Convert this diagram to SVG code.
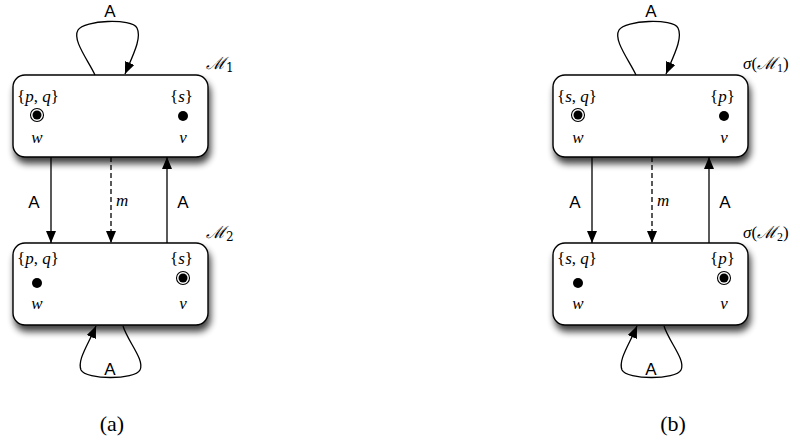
<svg xmlns="http://www.w3.org/2000/svg" width="800" height="444" viewBox="0 0 800 444">
<style>
.box{fill:#fff;stroke:#000;stroke-width:1.4}
.ln{fill:none;stroke:#000;stroke-width:1.3}
.dash{stroke-dasharray:5,3}
.lab{font-family:"Liberation Sans",Arial,sans-serif;font-size:17px;fill:#000;text-anchor:middle}
.mt{font-family:"Liberation Serif","Times New Roman",serif;font-size:17px;fill:#000}
.it{font-style:italic}
.cap{font-family:"Liberation Serif","Times New Roman",serif;font-size:22px;fill:#000;text-anchor:middle}
.sc{font-family:"DejaVu Serif","Liberation Serif",serif;font-style:italic;font-size:17px}
</style>
<defs>
<filter id="sh" x="-20%" y="-20%" width="140%" height="160%">
<feGaussianBlur in="SourceAlpha" stdDeviation="3.5"/>
<feOffset dx="2" dy="6" result="b"/>
<feComponentTransfer><feFuncA type="linear" slope="0.75"/></feComponentTransfer>
<feMerge><feMergeNode/><feMergeNode in="SourceGraphic"/></feMerge>
</filter>
<marker id="ah" markerUnits="userSpaceOnUse" markerWidth="13" markerHeight="11" refX="12" refY="5" orient="auto">
<path d="M0,0 L12,5 L0,10 z" fill="#000"/>
</marker>
<g id="dbl"><circle r="6.5" fill="#fff" stroke="#000" stroke-width="1.1"/><circle r="4.5" fill="#000"/></g>
</defs>

<!-- Panel (a) -->
<g id="panel-a">
<g id="a-M1">
<rect class="box" x="13" y="75" width="195" height="82" rx="12" filter="url(#sh)"/>
<text class="mt" x="17" y="102">{<tspan class="it">p</tspan>, <tspan class="it">q</tspan>}</text>
<text class="mt" x="170" y="102">{<tspan class="it">s</tspan>}</text>
<use href="#dbl" x="37" y="115"/>
<circle cx="183" cy="116" r="5" fill="#000"/>
<text class="mt it" x="37" y="143" text-anchor="middle">w</text>
<text class="mt it" x="183" y="143" text-anchor="middle">v</text>
<text class="sc" x="206" y="69">ℳ<tspan font-size="12" dy="3" font-style="normal">1</tspan></text>
</g>
<g id="a-M2">
<rect class="box" x="13" y="243" width="195" height="82" rx="12" filter="url(#sh)"/>
<text class="mt" x="17" y="264">{<tspan class="it">p</tspan>, <tspan class="it">q</tspan>}</text>
<text class="mt" x="170" y="264">{<tspan class="it">s</tspan>}</text>
<circle cx="37" cy="283" r="5" fill="#000"/>
<use href="#dbl" x="183" y="278"/>
<text class="mt it" x="37" y="309" text-anchor="middle">w</text>
<text class="mt it" x="183" y="309" text-anchor="middle">v</text>
<text class="sc" x="206" y="238">ℳ<tspan font-size="12" dy="3" font-style="normal">2</tspan></text>
</g>
<g id="a-edges">
<path class="ln" d="M95,75 C88,60 72,40 78,30 C84,20 132,18 137,28 C142,38 133,55 125,74" marker-end="url(#ah)"/>
<text class="lab" x="110" y="17">A</text>
<line class="ln" x1="51" y1="157" x2="51" y2="243" marker-end="url(#ah)"/>
<text class="lab" x="34" y="208">A</text>
<line class="ln dash" x1="111" y1="157" x2="111" y2="243" marker-end="url(#ah)"/>
<text class="mt it" x="116" y="206">m</text>
<line class="ln" x1="167" y1="243" x2="167" y2="157" marker-end="url(#ah)"/>
<text class="lab" x="183" y="208">A</text>
<path class="ln" d="M123,326 C128,342 145,360 140,370 C135,380 86,380 81,370 C77,360 88,345 96,326" marker-end="url(#ah)"/>
<text class="lab" x="110" y="375">A</text>
</g>
<text class="cap" x="112" y="431">(a)</text>
</g>

<!-- Panel (b) -->
<g id="panel-b">
<g id="b-M1">
<rect class="box" x="553" y="75" width="195" height="82" rx="12" filter="url(#sh)"/>
<text class="mt" x="557" y="102">{<tspan class="it">s</tspan>, <tspan class="it">q</tspan>}</text>
<text class="mt" x="710" y="102">{<tspan class="it">p</tspan>}</text>
<use href="#dbl" x="578" y="115"/>
<circle cx="724" cy="116" r="5" fill="#000"/>
<text class="mt it" x="578" y="143" text-anchor="middle">w</text>
<text class="mt it" x="724" y="143" text-anchor="middle">v</text>
<text class="mt" x="743" y="69"><tspan class="it">σ</tspan>(<tspan class="sc">ℳ</tspan><tspan font-size="12" dy="3">1</tspan><tspan dy="-3">)</tspan></text>
</g>
<g id="b-M2">
<rect class="box" x="553" y="243" width="195" height="82" rx="12" filter="url(#sh)"/>
<text class="mt" x="557" y="264">{<tspan class="it">s</tspan>, <tspan class="it">q</tspan>}</text>
<text class="mt" x="710" y="264">{<tspan class="it">p</tspan>}</text>
<circle cx="578" cy="283" r="5" fill="#000"/>
<use href="#dbl" x="724" y="278"/>
<text class="mt it" x="578" y="309" text-anchor="middle">w</text>
<text class="mt it" x="724" y="309" text-anchor="middle">v</text>
<text class="mt" x="743" y="238"><tspan class="it">σ</tspan>(<tspan class="sc">ℳ</tspan><tspan font-size="12" dy="3">2</tspan><tspan dy="-3">)</tspan></text>
</g>
<g id="b-edges">
<path class="ln" d="M636,75 C629,60 613,40 619,30 C625,20 673,18 678,28 C683,38 674,55 666,74" marker-end="url(#ah)"/>
<text class="lab" x="651" y="17">A</text>
<line class="ln" x1="592" y1="157" x2="592" y2="243" marker-end="url(#ah)"/>
<text class="lab" x="575" y="208">A</text>
<line class="ln dash" x1="652" y1="157" x2="652" y2="243" marker-end="url(#ah)"/>
<text class="mt it" x="657" y="206">m</text>
<line class="ln" x1="709" y1="243" x2="709" y2="157" marker-end="url(#ah)"/>
<text class="lab" x="725" y="208">A</text>
<path class="ln" d="M664,326 C669,342 686,360 681,370 C676,380 627,380 622,370 C618,360 629,345 637,326" marker-end="url(#ah)"/>
<text class="lab" x="651" y="375">A</text>
</g>
<text class="cap" x="673" y="431">(b)</text>
</g>
</svg>
